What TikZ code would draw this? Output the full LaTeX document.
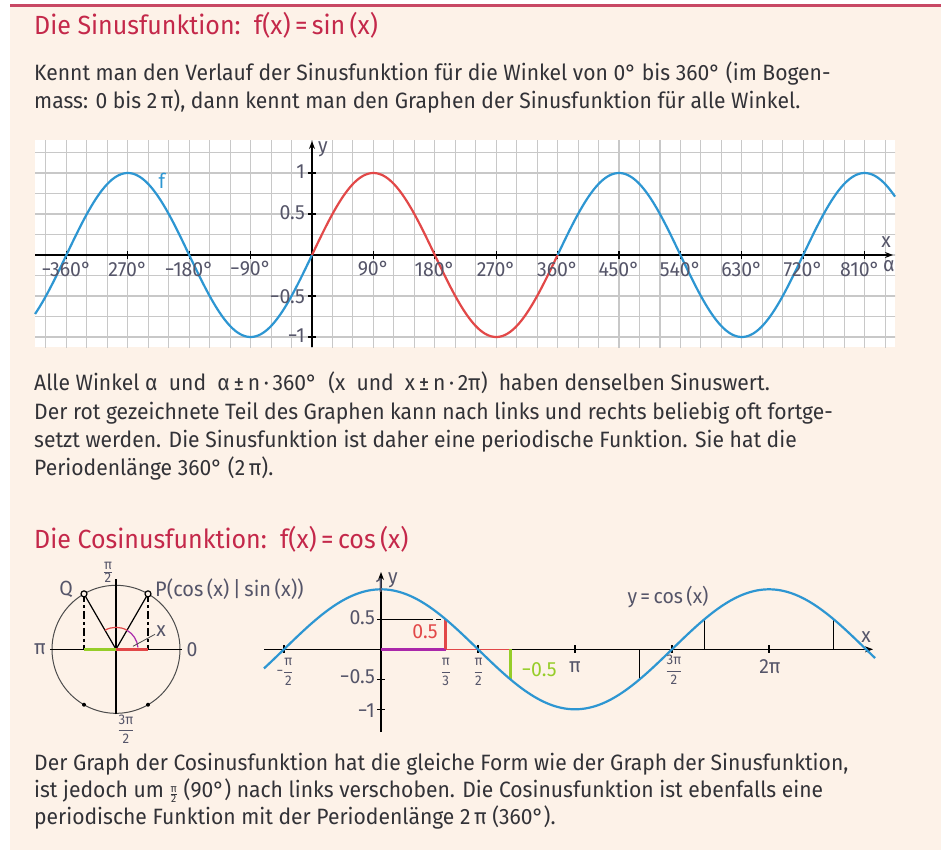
\documentclass[tikz,border=0pt]{standalone}
\usepackage{fontspec}
\setmainfont[FakeStretch=0.95]{Fira Sans}
\usetikzlibrary{arrows.meta}
\definecolor{bgc}{RGB}{253,242,232}
\definecolor{topc}{RGB}{200,72,100}
\definecolor{titlec}{RGB}{196,40,74}
\definecolor{txtc}{RGB}{50,50,55}
\definecolor{lblc}{RGB}{85,85,105}
\definecolor{cblue}{RGB}{45,150,210}
\definecolor{cred}{RGB}{226,72,72}
\definecolor{cgreen}{RGB}{150,205,40}
\definecolor{cmag}{RGB}{170,40,170}
\definecolor{gridc}{RGB}{200,200,200}
\newcommand{\myfr}[2]{$\frac{\mbox{#1}}{\mbox{#2}}$}
\newcommand{\myfrd}[2]{$\displaystyle\frac{\mbox{#1}}{\mbox{#2}}$}
\begin{document}
\begin{tikzpicture}[x=1pt,y=-1pt,
  txtline/.style={anchor=base west,inner sep=0pt,text=txtc,font=\fontsize{22.2}{26}\selectfont},
  titleline/.style={anchor=base west,inner sep=0pt,text=titlec,font=\fontsize{26.3}{30}\selectfont},
  lbl/.style={inner sep=1pt,text=lblc,font=\fontsize{20.5}{23}\selectfont},
  frlbl/.style={inner sep=0pt,text=lblc,font=\fontsize{14}{15}\selectfont},
  gridline/.style={draw=gridc,line width=1.1pt},
  axis/.style={draw=black,line width=1.2pt,-{Stealth[length=8pt,width=6pt]}},
  tick/.style={draw=black,line width=1.2pt},
  curve/.style={line width=2.2pt},
  thin/.style={draw=black,line width=1.2pt}]
\useasboundingbox (0,0) rectangle (941,854);
\fill[white] (0,0) rectangle (941,854);
\fill[bgc] (10,6) rectangle (941,850);
\draw[topc,line width=3pt] (10,5) -- (941,5);

% ---------- texts ----------
\node[titleline] (title1) at (34,34) {Die Sinusfunktion:\ \ f(x)\,=\,sin\,(x)};
\node[txtline] (p1a) at (34,80) {Kennt man den Verlauf der Sinusfunktion für die Winkel von 0° bis 360° (im Bogen-};
\node[txtline] (p1b) at (34,108) {mass: 0 bis 2\,π), dann kennt man den Graphen der Sinusfunktion für alle Winkel.};

\node[txtline] (p2a) at (34,390) {Alle Winkel α\ \ und\ \ α\,±\,n\,·\,360°\ \ (x\ \ und\ \ x\,±\,n\,·\,2π)\ \ haben denselben Sinuswert.};
\node[txtline] (p2b) at (34,419) {Der rot gezeichnete Teil des Graphen kann nach links und rechts beliebig oft fortge-};
\node[txtline] (p2c) at (34,447) {setzt werden. Die Sinusfunktion ist daher eine periodische Funktion. Sie hat die};
\node[txtline] (p2d) at (34,475) {Periodenlänge 360° (2\,π).};

\node[titleline] (title2) at (34,548) {Die Cosinusfunktion:\ \ f(x)\,=\,cos\,(x)};

\node[txtline] (p3a) at (34,770) {Der Graph der Cosinusfunktion hat die gleiche Form wie der Graph der Sinusfunktion,};
\node[txtline] (p3b) at (34,797) {ist jedoch um {\fontsize{11}{11}\selectfont\myfr{π}{2}} (90°) nach links verschoben. Die Cosinusfunktion ist ebenfalls eine};
\node[txtline] (p3c) at (34,824) {periodische Funktion mit der Periodenlänge 2\,π (360°).};

% ---------- sine graph ----------
\fill[white] (35,140) rectangle (895,347);
\begin{scope}
\clip (35,140) rectangle (895,347);
\foreach \k in {-14,...,29} \draw[gridline] ({312+20.467*\k},130) -- ({312+20.467*\k},360);
\foreach \k in {-6,...,5} \draw[gridline] (30,{255+20.5*\k}) -- (900,{255+20.5*\k});
\end{scope}
\coordinate (sx0) at (35,255);
\coordinate (sx1) at (893,255);
\coordinate (sy0) at (312,347);
\coordinate (sy1) at (312,141);
\draw[axis] (sx0) -- (sx1);
\draw[axis] (sy0) -- (sy1);
\foreach \a in {-360,-270,...,810} \draw[tick] ({312+0.68222*\a},251) -- ++(0,8);
\foreach \v in {-1,-0.5,0.5,1} \draw[tick] (308,{255-82*\v}) -- ++(8,0);
\draw[curve,cblue] plot[domain=-406:0,samples=120] ({312+0.68222*\x},{255-82*sin(\x)});
\draw[curve,cred] plot[domain=0:360,samples=150] ({312+0.68222*\x},{255-82*sin(\x)});
\draw[curve,cblue] plot[domain=360:854.6,samples=150] ({312+0.68222*\x},{255-82*sin(\x)});
\foreach \a/\t [count=\i] in {-360/−360°,-270/270°,-180/−180°,-90/−90°,90/90°,180/180°,270/270°,360/360°,450/450°,540/540°,630/630°,720/720°}
  \node[lbl] (sl\i) at ({312+0.68222*\a},269) {\t};
\node[lbl] (sl13) at (860,269) {810°};
\node[lbl,inner sep=0pt] (sal) at (889,266) {α};
\node[lbl,anchor=east] (sy1l) at (306,172) {1};
\node[lbl,anchor=east] (sy2l) at (306,213) {0.5};
\node[lbl,anchor=east] (sy3l) at (306,297) {−0.5};
\node[lbl,anchor=east] (sy4l) at (306,336) {−1};
\node[lbl] (syl) at (323,149) {y};
\node[lbl] (sxl) at (886,242) {x};
\node[lbl,text=cblue] (fl) at (162,181) {f};

% ---------- cosine graph ----------
\coordinate (cx0) at (264,649.3);
\coordinate (cx1) at (873,649.3);
\coordinate (cy0) at (381,732);
\coordinate (cy1) at (381,572);
\draw[axis] (cx0) -- (cx1);
\draw[axis] (cy0) -- (cy1);
\foreach \v in {-1,-0.5,0.5,1} \draw[tick] (377,{649.3-60*\v}) -- ++(8,0);
\foreach \a in {-90,90,180,270,360} \draw[tick] ({381+1.0778*\a},645) -- ++(0,8);
% helper lines
\draw[thin] (381,619.3) -- (428,619.3);
\draw[thin,dash pattern=on 5pt off 3pt] (428,619.3) -- (445.7,619.3);
\draw[cred,line width=1.5pt] (445.7,649.3) -- (510.3,649.3);
\draw[cmag,line width=3pt] (381,649.3) -- (445.7,649.3);
\draw[cred,line width=3pt] (445.7,649.3) -- (445.7,619.3);
\draw[cgreen,line width=3pt] (510.3,649.3) -- (510.3,679.3);
\draw[thin] (639.7,649.3) -- (639.7,679.3);
\draw[thin] (704.3,649.3) -- (704.3,619.3);
\draw[thin] (833.7,649.3) -- (833.7,619.3);
\draw[curve,cblue] plot[domain=-108.6:458.4,samples=200] ({381+1.0778*\x},{649.3-60*cos(\x)});
% labels
\node[lbl,anchor=east] (cyl1) at (385,586) {1};
\node[lbl,anchor=east] (cyl2) at (376,618) {0.5};
\node[lbl,anchor=east] (cyl3) at (376,677) {−0.5};
\node[lbl,anchor=east] (cyl4) at (376,711) {−1};
\node[lbl] (cyl) at (393,580) {y};
\node[lbl] (cxl) at (866,637) {x};
\node[lbl,text=cred] (c05) at (425,632) {0.5};
\node[lbl,text=cgreen] (cm05) at (539,670) {−0.5};
\node[lbl] (cpi) at (575,667) {π};
\node[lbl] (c2pi) at (770,667) {2π};
\node[frlbl] (cmpi2) at (285,672) {−\myfrd{π}{2}};
\node[frlbl] (cpi3) at (445.7,672) {\myfrd{π}{3}};
\node[frlbl] (cpi2) at (478.5,672) {\myfrd{π}{2}};
\node[frlbl] (c3pi2) at (674,670) {\myfrd{3π}{2}};
\node[lbl] (cosl) at (668,597) {y\,=\,cos\,(x)};

% ---------- unit circle ----------
\begin{scope}[shift={(116,649.3)},y=1pt]
\coordinate (C) at (0,0);
\coordinate (P) at (32,55.43);
\coordinate (Q) at (-32,55.43);
\coordinate (Pb) at (32,0);
\coordinate (Qb) at (-32,0);
\draw[draw=black!70,line width=1pt] (C) circle[radius=64pt];
\coordinate (h0) at (-66,0);
\coordinate (h1) at (66,0);
\coordinate (v0) at (0,-65);
\coordinate (v1) at (0,70);
\draw[thin] (h0) -- (h1);
\draw[thin] (v0) -- (v1);
\draw[thin] (C) -- (P);
\draw[thin] (C) -- (Q);
\draw[thin,dash pattern=on 8pt off 3pt on 3pt off 3pt] (P) -- (Pb);
\draw[thin,dash pattern=on 8pt off 3pt on 3pt off 3pt] (Q) -- (Qb);
\draw[cred,line width=3pt] (C) -- (Pb);
\draw[cgreen,line width=3pt] (Qb) -- (C);
\draw[cred,line width=1.2pt] (60:22) arc[start angle=60,end angle=120,radius=22];
\draw[cmag,line width=1.2pt] (5:22) arc[start angle=5,end angle=60,radius=22];
\coordinate (xl0) at (17,3);
\coordinate (xl1) at (39,15);
\draw[draw=black!70,line width=0.8pt] (xl0) -- (xl1);
\fill[black] (240:64) circle[radius=2pt];
\fill[black] (300:64) circle[radius=2pt];
\draw[black,line width=1.2pt,fill=bgc] (P) circle[radius=3pt];
\draw[black,line width=1.2pt,fill=bgc] (Q) circle[radius=3pt];
\node[lbl] (ucx) at (45,18) {x};
\node[lbl] (ucq) at (-50,60) {Q};
\node[lbl,anchor=west,inner sep=0pt,font=\fontsize{21}{23}\selectfont] (ucp) at (39,60) {P(cos\,(x)\,|\,sin\,(x))};
\node[lbl] (ucpi) at (-76,0) {π};
\node[lbl] (uc0) at (76,0) {0};
\node[frlbl] (ucpi2) at (-8,77) {\myfr{π}{2}};
\node[frlbl] (uc3pi2) at (10,-80) {\myfrd{3π}{2}};
\end{scope}
\end{tikzpicture}
\end{document}
